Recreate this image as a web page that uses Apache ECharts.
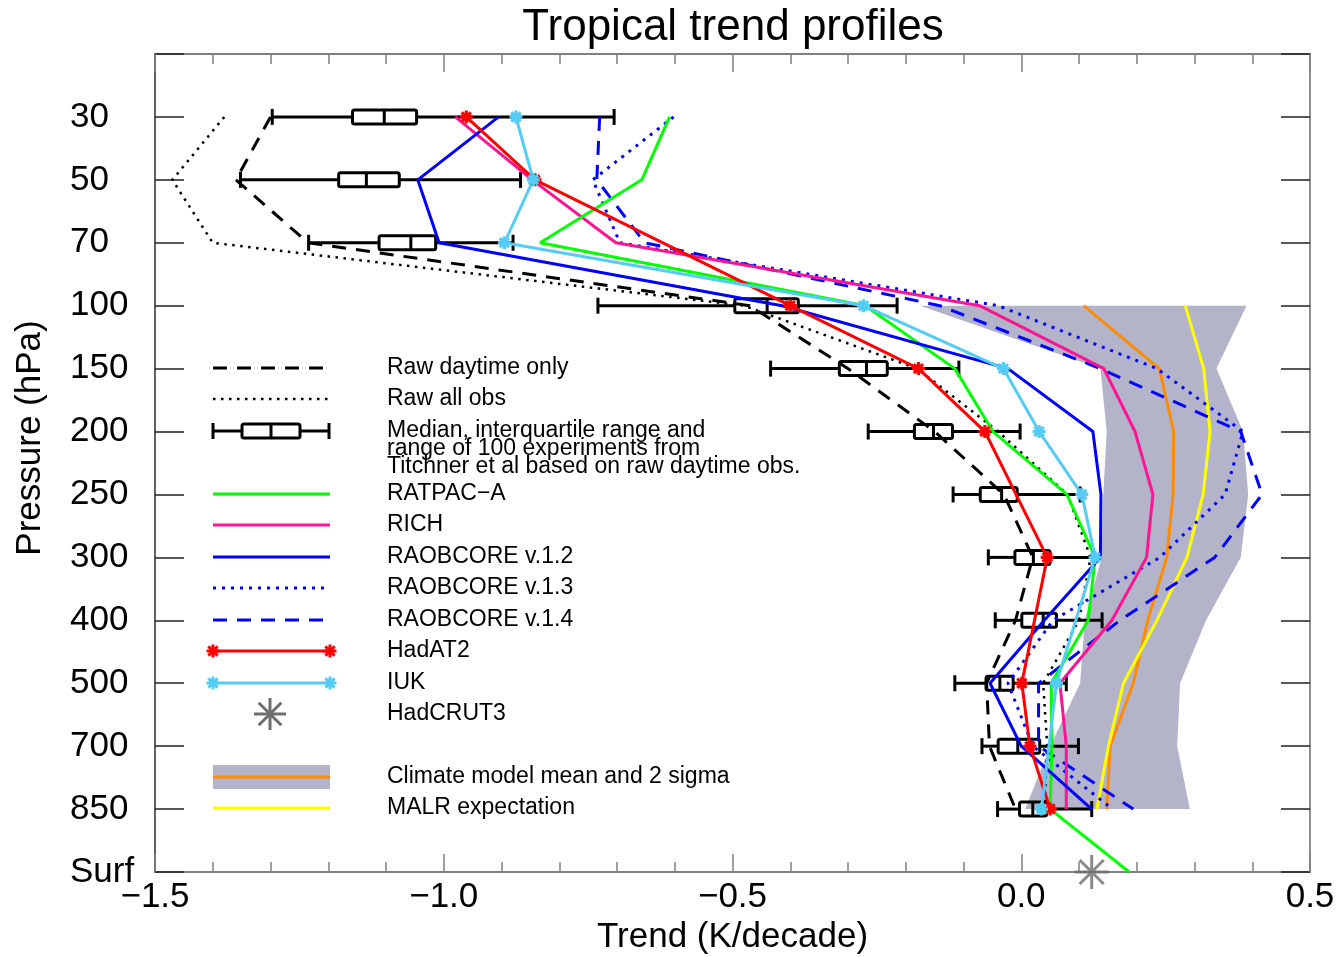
<!DOCTYPE html>
<html><head><meta charset="utf-8">
<script src="https://cdn.jsdelivr.net/npm/echarts@6/dist/echarts.min.js"></script>
<style>html,body{margin:0;padding:0;background:#fff;overflow:hidden;width:100%;height:100%}#c{position:absolute;left:0;top:0;width:1338px;height:957px}</style>
</head><body><div id="c"></div><script>
// Pressure levels (y positions 1..13, top to bottom)
const levels = ['30','50','70','100','150','200','250','300','400','500','700','850','Surf'];
const xTicks = [-1.5, -1.0, -0.5, 0.0, 0.5];

// Trends (K/decade), one entry per level, null = no value
const rawDaytime = [-1.30,-1.36,-1.235,-0.47,-0.30,-0.15,-0.03,0.02,-0.01,-0.06,-0.055,-0.01,null];
const rawAll     = [-1.38,-1.47,-1.40,-0.48,-0.18,-0.04,0.08,0.12,0.10,0.038,0.045,0.04,null];
const ratpac     = [-0.609,-0.657,-0.833,-0.27,-0.115,-0.049,0.079,0.128,0.116,0.052,0.053,0.05,0.187];
const rich       = [-0.98,-0.847,-0.702,-0.072,0.143,0.197,0.228,0.217,0.157,0.067,0.078,0.078,null];
const raob12     = [-0.905,-1.045,-1.008,-0.414,-0.023,0.124,0.138,0.137,0.04,-0.054,0.0,0.122,null];
const raob13     = [-0.602,-0.742,-0.695,-0.04,0.235,0.384,0.353,0.24,0.055,-0.023,0.02,0.158,null];
const raob14     = [-0.73,-0.735,-0.652,-0.141,0.137,0.38,0.417,0.335,0.171,0.03,0.03,0.194,null];
const hadat2     = [-0.961,-0.842,null,-0.40,-0.178,-0.063,null,0.045,null,0.001,0.015,0.05,null];
const iuk        = [-0.875,-0.845,-0.895,-0.273,-0.031,0.031,0.105,0.128,null,0.061,null,0.035,null];
const modelMean  = [null,null,null,0.108,0.239,0.264,0.263,0.252,0.219,0.194,0.154,0.148,null];
const modelLow   = [null,null,null,-0.175,0.137,0.148,0.142,0.139,0.11,0.102,0.05,0.007,null];
const modelHigh  = [null,null,null,0.39,0.338,0.384,0.393,0.38,0.32,0.275,0.27,0.292,null];
const malr       = [null,null,null,0.284,0.316,0.327,0.315,0.287,0.235,0.177,0.151,0.131,null];
const hadcrut3   = [null,null,null,null,null,null,null,null,null,null,null,null,0.122];

// Titchner et al. 100 experiments: whisker min, q1, median, q3, whisker max (levels 30..850)
const boxMin = [-1.297,-1.352,-1.234,-0.733,-0.434,-0.265,-0.118,-0.057,-0.045,-0.115,-0.068,-0.041];
const boxQ1  = [-1.158,-1.182,-1.112,-0.496,-0.315,-0.185,-0.071,-0.011,0.001,-0.061,-0.040,-0.003];
const boxMed = [-1.103,-1.134,-1.057,-0.440,-0.268,-0.152,-0.034,0.021,0.038,-0.037,-0.006,0.020];
const boxQ3  = [-1.047,-1.077,-1.014,-0.386,-0.232,-0.119,-0.007,0.050,0.061,-0.014,0.032,0.044];
const boxMax = [-0.705,-0.867,-0.880,-0.215,-0.108,-0.002,0.102,0.125,0.140,0.078,0.099,0.122];

const FONT = '"Liberation Sans", Arial, sans-serif';
const pts = arr => arr.map((v,i)=> v==null?null:[v,i+1]).filter(d=>d);

const asterisk = 'path://M0,-10L0,10M-10,0L10,0M-7.07,-7.07L7.07,7.07M-7.07,7.07L7.07,-7.07';

function lineSeries(name, arr, color, width, type, z, marker){
  return {name, type:'line', data:pts(arr), z:z||3,
    lineStyle:{color, width, type:type||'solid'}, showSymbol:!!marker,
    symbol: marker?asterisk:'none', symbolSize:13,
    itemStyle:{color, borderColor:color, borderWidth:3.2}, silent:true};
}

const boxData = boxMin.map((v,i)=>[boxMin[i],boxQ1[i],boxMed[i],boxQ3[i],boxMax[i],i+1]);
const bandData = modelLow.map((v,i)=> v==null?null:[modelLow[i],modelHigh[i],i+1]).filter(d=>d);

const chart = echarts.init(document.getElementById('c'), null, {renderer:'canvas', width:1338, height:957});

const legendY = [368,399,431,494,525,557,588,620,651,683,714,777,808];
const LX1=213, LX2=330, TX=387;
const g = [];
function lg(y, color, width, dash){
  g.push({type:'line', shape:{x1:LX1,y1:y,x2:LX2,y2:y}, style:{stroke:color,lineWidth:width,lineDash:dash||null}, z:10});
}
function lt(y, text){
  g.push({type:'text', x:TX, y:y, style:{text, font:'23px '+FONT, fill:'#000', textVerticalAlign:'middle', textAlign:'left'}, z:10});
}
lg(legendY[0],'#000',3,[14,10]); lt(legendY[0],'Raw daytime only');
lg(legendY[1],'#000',2.5,[2.5,5.5]); lt(legendY[1],'Raw all obs');
(function(){const y=legendY[2], st={stroke:'#000',lineWidth:3,fill:'transparent'};
 g.push({type:'line',shape:{x1:LX1,y1:y,x2:242,y2:y},style:st,z:10});
 g.push({type:'line',shape:{x1:300,y1:y,x2:LX2-1,y2:y},style:st,z:10});
 g.push({type:'line',shape:{x1:LX1,y1:y-8,x2:LX1,y2:y+8},style:st,z:10});
 g.push({type:'line',shape:{x1:LX2-1,y1:y-8,x2:LX2-1,y2:y+8},style:st,z:10});
 g.push({type:'rect',shape:{x:242,y:y-7,width:58,height:14,r:2},style:st,z:10});
 g.push({type:'line',shape:{x1:271,y1:y-7,x2:271,y2:y+7},style:st,z:10});
})();
g.push({type:'text', x:TX, y:431, style:{text:'Median, interquartile range and', font:'23px '+FONT, fill:'#000', textVerticalAlign:'middle'}, z:10});
g.push({type:'text', x:TX, y:449, style:{text:'range of 100 experiments from', font:'23px '+FONT, fill:'#000', textVerticalAlign:'middle'}, z:10});
g.push({type:'text', x:TX, y:467, style:{text:'Titchner et al based on raw daytime obs.', font:'23px '+FONT, fill:'#000', textVerticalAlign:'middle'}, z:10});
lg(legendY[3],'#00ff00',3); lt(legendY[3],'RATPAC\u2212A');
lg(legendY[4],'#ff1493',3); lt(legendY[4],'RICH');
lg(legendY[5],'#0000ff',3); lt(legendY[5],'RAOBCORE v.1.2');
lg(legendY[6],'#0000ff',3,[3,6]); lt(legendY[6],'RAOBCORE v.1.3');
lg(legendY[7],'#0000ff',3,[14,10]); lt(legendY[7],'RAOBCORE v.1.4');
lg(legendY[8],'#ff0000',3); lt(legendY[8],'HadAT2');
lg(legendY[9],'#55ccf5',3); lt(legendY[9],'IUK');
lt(legendY[10],'HadCRUT3');
g.push({type:'rect',shape:{x:LX1,y:legendY[11]-12,width:LX2-LX1,height:24},style:{fill:'#b3b3ca'},z:9});
lg(legendY[11],'#ff8c00',3); lt(legendY[11],'Climate model mean and 2 sigma');
lg(legendY[12],'#ffff00',3); lt(legendY[12],'MALR expectation');
g.push({type:'text', x:733, y:28, style:{text:'Tropical trend profiles', font:'44px '+FONT, fill:'#000', textAlign:'center', textVerticalAlign:'middle'}, z:10});
g.push({type:'text', x:30, y:438, rotation:Math.PI/2, style:{text:'Pressure (hPa)', font:'35px '+FONT, fill:'#000', textAlign:'center', textVerticalAlign:'middle'}, z:10});

function star(cx, cy, r, color, w, n){
  const step = Math.PI/(n/2);
  for(let k=0;k<n/2;k++){const a=k*step; g.push({type:'line',shape:{x1:cx-r*Math.cos(a),y1:cy-r*Math.sin(a),x2:cx+r*Math.cos(a),y2:cy+r*Math.sin(a)},style:{stroke:color,lineWidth:w},z:11});}
}
star(LX1,legendY[8],6.5,'#ff0000',3,8); star(LX2,legendY[8],6.5,'#ff0000',3,8);
star(LX1,legendY[9],6.5,'#55ccf5',3,8); star(LX2,legendY[9],6.5,'#55ccf5',3,8);
star(270,legendY[10],16,'#6e6e6e',3,8);

const xCommon = {type:'value', min:xTicks[0], max:xTicks[xTicks.length-1], interval:0.5,
  axisLine:{show:true,onZero:false,lineStyle:{color:'#808080',width:2}},
  axisTick:{show:true,inside:true,length:18,lineStyle:{color:'#808080',width:1.5}},
  minorTick:{show:true,splitNumber:5,length:10,lineStyle:{color:'#808080',width:1.5}},
  splitLine:{show:false}};
const yCommon = {type:'value', min:0, max:13, interval:1, inverse:true,
  axisTick:{show:true,inside:true,length:29,lineStyle:{color:'#222',width:1.5}},
  splitLine:{show:false}};

const option = {
  animation:false,
  backgroundColor:'#fff',
  grid:{left:155,right:28,top:54,bottom:85,containLabel:false,outerBoundsMode:'none'},
  xAxis:[Object.assign({}, xCommon, {position:'bottom',
    axisLabel:{fontSize:35,fontFamily:FONT,color:'#000',margin:8,
      formatter:v=>{const r=Math.round(v*10)/10; return (r<0?'\u2212':'')+Math.abs(r).toFixed(1);}},
    name:'Trend (K/decade)', nameLocation:'middle', nameGap:47,
    nameTextStyle:{fontSize:35,fontFamily:FONT,color:'#000'}}),
    Object.assign({}, xCommon, {position:'top', axisLabel:{show:false}})],
  yAxis:[Object.assign({}, yCommon, {position:'left',
    axisLine:{show:true,onZero:false,lineStyle:{color:'#606060',width:2}},
    axisLabel:{fontSize:35,fontFamily:FONT,color:'#000',margin:85,align:'left',
      formatter:v=> (v>=1&&v<=13)?levels[v-1]:''}}),
    Object.assign({}, yCommon, {position:'right',
    axisLine:{show:true,onZero:false,lineStyle:{color:'#909090',width:2}},
    axisLabel:{show:false}})],
  graphic:g,
  series:[
    {name:'band', type:'custom', z:1, silent:true, data:bandData, encode:{x:[0,1],y:2},
      renderItem:(params, api)=>{
        if(params.dataIndexInside!==0) return null;
        const n = bandData.length, L=[], R=[];
        for(let i=0;i<n;i++){
          L.push(api.coord([api.value(0,i), api.value(2,i)]));
          R.push(api.coord([api.value(1,i), api.value(2,i)]));
        }
        return {type:'polygon', shape:{points:L.concat(R.reverse())}, style:{fill:'#b3b3ca'}};
      }},
    lineSeries('Raw daytime only', rawDaytime, '#000', 3, [14,10], 2),
    lineSeries('Raw all obs', rawAll, '#000', 2.5, [2.5,5.5], 2),
    {name:'boxes', type:'custom', z:4, silent:true, data:boxData, encode:{x:[0,1,2,3,4],y:5},
      renderItem:(params, api)=>{
        const y = api.value(5);
        const c = i => api.coord([api.value(i), y]);
        const a=c(0), b=c(1), m=c(2), d=c(3), e=c(4);
        const hh=7, cap=8, st={stroke:'#000',lineWidth:3,fill:'transparent'};
        return {type:'group', children:[
          {type:'line', shape:{x1:a[0],y1:a[1],x2:b[0],y2:b[1]}, style:st},
          {type:'line', shape:{x1:d[0],y1:d[1],x2:e[0],y2:e[1]}, style:st},
          {type:'line', shape:{x1:a[0],y1:a[1]-cap,x2:a[0],y2:a[1]+cap}, style:st},
          {type:'line', shape:{x1:e[0],y1:e[1]-cap,x2:e[0],y2:e[1]+cap}, style:st},
          {type:'rect', shape:{x:b[0],y:b[1]-hh,width:d[0]-b[0],height:2*hh,r:2}, style:st},
          {type:'line', shape:{x1:m[0],y1:m[1]-hh,x2:m[0],y2:m[1]+hh}, style:st}
        ]};
      }},
    lineSeries('Climate model mean', modelMean, '#ff8c00', 3, 'solid', 3),
    lineSeries('MALR expectation', malr, '#ffff00', 3, 'solid', 3),
    lineSeries('RAOBCORE v.1.3', raob13, '#0000ff', 3, [3,6], 5),
    lineSeries('RAOBCORE v.1.4', raob14, '#0000ff', 3, [14,10], 5),
    lineSeries('RICH', rich, '#ff1493', 3, 'solid', 5),
    lineSeries('RATPAC-A', ratpac, '#00ff00', 3, 'solid', 5),
    lineSeries('RAOBCORE v.1.2', raob12, '#0000ff', 3, 'solid', 5),
    lineSeries('HadAT2', hadat2, '#ff0000', 3, 'solid', 6, true),
    lineSeries('IUK', iuk, '#55ccf5', 3, 'solid', 6, true),
    {name:'HadCRUT3', type:'scatter', z:7, silent:true, data:pts(hadcrut3),
      symbol:asterisk, symbolSize:34, itemStyle:{color:'#6e6e6e',borderColor:'#6e6e6e',borderWidth:3}}
  ]
};
chart.setOption(option);
</script></body></html>
